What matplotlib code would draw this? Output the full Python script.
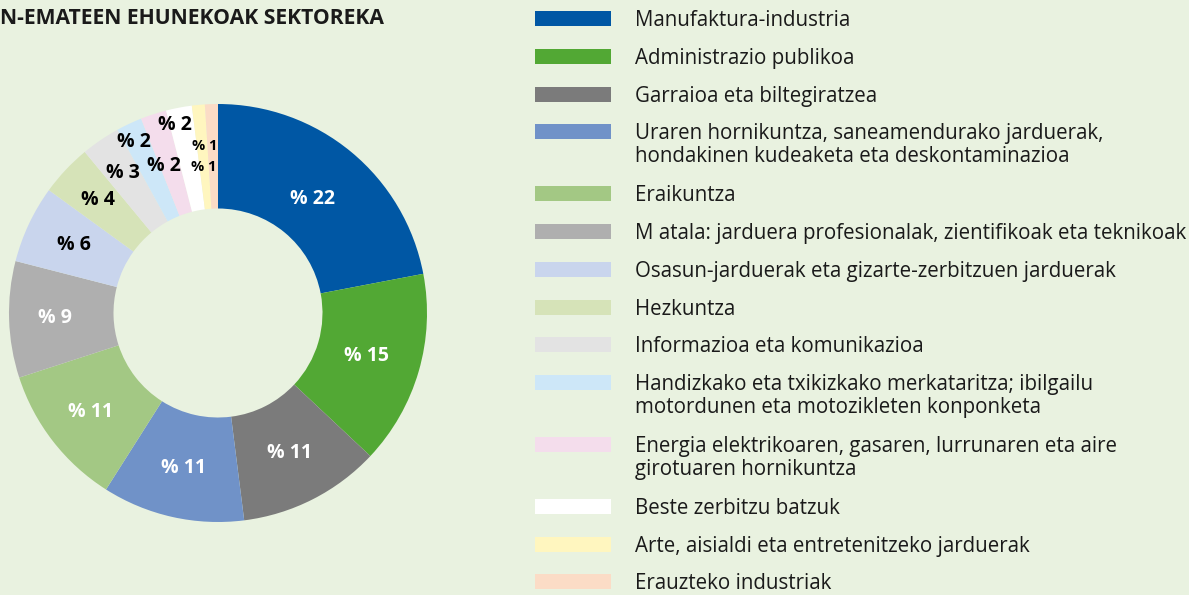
import numpy as np
import matplotlib
matplotlib.use('Agg')
import matplotlib.pyplot as plt
from matplotlib.patches import Rectangle

# sector shares (%) clockwise from 12 o'clock
sectors = [
    'Manufaktura-industria',
    'Administrazio publikoa',
    'Garraioa eta biltegiratzea',
    'Uraren hornikuntza, saneamendurako jarduerak,\nhondakinen kudeaketa eta deskontaminazioa',
    'Eraikuntza',
    'M atala: jarduera profesionalak, zientifikoak eta teknikoak',
    'Osasun-jarduerak eta gizarte-zerbitzuen jarduerak',
    'Hezkuntza',
    'Informazioa eta komunikazioa',
    'Handizkako eta txikizkako merkataritza; ibilgailu\nmotordunen eta motozikleten konponketa',
    'Energia elektrikoaren, gasaren, lurrunaren eta aire\ngirotuaren hornikuntza',
    'Beste zerbitzu batzuk',
    'Arte, aisialdi eta entretenitzeko jarduerak',
    'Erauzteko industriak',
]
shares = [22, 15, 11, 11, 11, 9, 6, 4, 3, 2, 2, 2, 1, 1]
colors = ['#0057a4', '#52a834', '#7b7b7b', '#7092c8', '#a3c884', '#afafaf',
          '#c9d5ed', '#d6e3b8', '#e3e3e3', '#cde7f8', '#f4ddec', '#ffffff',
          '#fff6bf', '#fbdcc6']
title = 'N-EMATEEN EHUNEKOAK SEKTOREKA'

# label placement tweaks: radius factor, angle shift (deg)
lab_r = [0.71, 0.74, 0.75, 0.76, 0.77, 0.78, 0.76, 0.79, 0.81, 0.91, 0.75, 0.92, 0.80, 0.70]
lab_da = [0, 0, 0, 0, 0, 0, 0, 0, 0, -1, -2, -2, 1, -4]
dark = {0, 1, 2, 3, 4, 5}

bg = '#e9f2e0'
W, H = 1189, 595
fig = plt.figure(figsize=(W / 100, H / 100), dpi=100, facecolor=bg)
plt.rcParams['font.family'] = ['Open Sans', 'DejaVu Sans']

# donut
cx, cy, R = 218, 313, 209
ax = fig.add_axes([(cx - R) / W, (H - cy - R) / H, 2 * R / W, 2 * R / H])
ax.pie(shares, colors=colors, startangle=90, counterclock=False, radius=1,
       wedgeprops=dict(width=0.5, linewidth=0))
ax.set_xlim(-1, 1)
ax.set_ylim(-1, 1)
ax.set_aspect('equal')
ax.axis('off')

cum = np.cumsum([0] + shares)
for i, v in enumerate(shares):
    mid = (cum[i] + cum[i + 1]) / 2 / sum(shares) * 360 + lab_da[i]
    a = np.deg2rad(90 - mid)
    r = lab_r[i]
    fs = 10.5 if v == 1 else 14
    ax.text(r * np.cos(a), r * np.sin(a), f'% {v}', ha='center', va='center',
            fontsize=fs, fontweight='bold', color='white' if i in dark else 'black')

fig.text(0, 1 - 19 / H, title, ha='left', va='center', fontsize=15.2,
         fontweight='bold', color='#1a1a1a')

# legend
y = 18.5
for name, c in zip(sectors, colors):
    lines = name.split('\n')
    fig.patches.append(Rectangle((535 / W, 1 - (y + 7.5) / H), 76 / W, 15 / H,
                                 transform=fig.transFigure, color=c, linewidth=0))
    for j, ln in enumerate(lines):
        fig.text(635 / W, 1 - (y + 2 + j * 23) / H, ln, ha='left', va='center',
                 fontsize=14.8, color='#1a1a1a')
    y += 37.8 + 24 * (len(lines) - 1)

fig.savefig('out.png', dpi=100, facecolor=bg)
